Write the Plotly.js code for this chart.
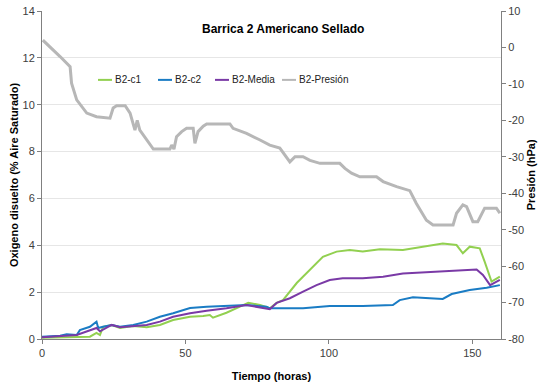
<!DOCTYPE html>
<html>
<head>
<meta charset="utf-8">
<script src="https://cdn.plot.ly/plotly-3.0.1.min.js"></script>
<style>
  html, body { margin: 0; padding: 0; background: #ffffff; }
  #chart { width: 539px; height: 388px; }
</style>
</head>
<body>
<div id="chart"></div>
<script>
// Barrica 2, americano, sellado: oxígeno disuelto (eje izquierdo) y presión (eje derecho)

// B2-c1 (sensor 1)
const c1Hours = [0, 16.7, 19, 20.2, 21.3, 24.3, 27.2, 31.8, 36.5, 41.1, 45.7, 51.6, 56.2, 58.5, 59.6,
  64.3, 69, 71.9, 76, 79.4, 81.8, 84, 88.8, 93.4, 97.9, 102.7, 107.3, 111.8, 117.8, 125.8,
  132.8, 139.7, 144.5, 146.7, 149.1, 152.6, 154.3, 156.7, 159.6];
const c1Oxygen = [0.05, 0.1, 0.26, 0.17, 0.52, 0.6, 0.47, 0.55, 0.5, 0.6, 0.81, 0.95, 0.98, 1.02, 0.91,
  1.12, 1.38, 1.55, 1.45, 1.31, 1.54, 1.66, 2.39, 2.94, 3.51, 3.73, 3.8, 3.73, 3.83, 3.8,
  3.94, 4.08, 4.01, 3.66, 3.94, 3.87, 3.3, 2.45, 2.66];

// B2-c2 (sensor 2)
const c2Hours = [0, 6.3, 8.6, 12.1, 13.2, 16.7, 19, 19.6, 21.3, 24.3, 27.2, 31.8, 36.5, 41.1, 45.7,
  51.6, 57.4, 64.3, 71.3, 78.3, 79.4, 91, 100.3, 111.8, 122.3, 124.7, 129.3, 135.2, 139.7,
  142.8, 149.1, 155, 159.6];
const c2Oxygen = [0.1, 0.14, 0.2, 0.17, 0.38, 0.52, 0.74, 0.47, 0.52, 0.6, 0.52, 0.6, 0.74, 0.95, 1.1,
  1.32, 1.38, 1.41, 1.45, 1.38, 1.31, 1.31, 1.41, 1.41, 1.45, 1.66, 1.78, 1.74, 1.71,
  1.92, 2.09, 2.19, 2.3];

// B2-Media (media de ambos sensores)
const meanHours = [0, 12.1, 19, 20.2, 24.3, 27.2, 36.5, 41.1, 45.7, 51.6, 57.4, 64.3, 71.3, 78.3, 79.4,
  81.8, 86.4, 91, 95.7, 100.3, 104.8, 111.8, 118.9, 125.8, 135.2, 144.5, 151.5, 153.7, 156.2, 159.6];
const meanOxygen = [0.07, 0.17, 0.47, 0.33, 0.6, 0.5, 0.6, 0.74, 0.95, 1.1, 1.21, 1.31, 1.45, 1.31, 1.27,
  1.54, 1.74, 2.02, 2.3, 2.52, 2.59, 2.59, 2.66, 2.8, 2.87, 2.94, 2.97, 2.73, 2.3, 2.52];

// B2-Presión (hPa)
const pressureHours = [0.3, 2.8, 6.3, 9.8, 10.3, 12.1, 15.6, 19, 23.7, 24.8, 26, 29, 30.7, 32.4, 33.2,
  34.1, 36.5, 38.8, 44.6, 45.2, 46, 46.9, 48.7, 50.4, 52.7, 53.3, 54.4, 56.2, 57.4, 65.5,
  66.6, 71.3, 76, 79.4, 82.9, 86.4, 88.2, 91, 93.4, 96.9, 103.8, 105.6, 107.9, 110.8,
  116.6, 118.9, 123.6, 127, 128.2, 130.5, 134, 136.3, 143.3, 144.5, 146.7, 148, 150.2,
  151.9, 154.3, 158.4, 159.6];
const pressure = [2.0, 0.2, -2.5, -5.3, -9.8, -14.4, -18, -19, -19.4, -16.6, -16, -16, -18, -22.7, -20,
  -22.7, -25.4, -27.9, -27.9, -26.8, -27.9, -24.5, -23.1, -22.2, -22.2, -26.3, -23.1, -21.6, -21, -21,
  -22.2, -23.6, -25.4, -26.8, -27.6, -31.4, -30, -30, -31, -31.8, -31.8, -33.2, -34.5, -35.5,
  -35.5, -36.8, -38.2, -39.1, -39.3, -42.8, -47.4, -48.7, -48.7, -45.5, -43.2, -43.7, -47.8,
  -47.8, -44.1, -44.1, -45.5];

// Etiquetas de los ejes
const hourTicks = [0, 50, 100, 150];
const oxygenTicks = [0, 2, 4, 6, 8, 10, 12, 14];
const pressureTicks = [-80, -70, -60, -50, -40, -30, -20, -10, 0, 10];
const pressureTickText = ['-80', '-70', '-60', '-50', '-40', '-30', '-20', '-10', '0', '10'];

const seriesNames = ['B2-c1', 'B2-c2', 'B2-Media', 'B2-Presión'];
const seriesColors = ['#92d050', '#1a7cc4', '#7a3aa6', '#b7b7b7'];

const FAMILY = 'Liberation Sans, Arial, sans-serif';
const axisFont = { family: FAMILY, size: 11, color: '#404040' };
const boldFont = { family: FAMILY, size: 11, color: '#000000', weight: 'bold' };

const traces = [
  { x: c1Hours, y: c1Oxygen, name: seriesNames[0], type: 'scatter', mode: 'lines',
    line: { color: seriesColors[0], width: 2 } },
  { x: c2Hours, y: c2Oxygen, name: seriesNames[1], type: 'scatter', mode: 'lines',
    line: { color: seriesColors[1], width: 2 } },
  { x: meanHours, y: meanOxygen, name: seriesNames[2], type: 'scatter', mode: 'lines',
    line: { color: seriesColors[2], width: 2 } },
  { x: pressureHours, y: pressure, name: seriesNames[3], type: 'scatter', mode: 'lines',
    yaxis: 'y2', line: { color: seriesColors[3], width: 3 } }
];

// Leyenda compacta en una fila: trazo corto + texto
const legendStarts = [98, 158, 215, 282];   // px desde el borde izquierdo de la figura
const plotLeft = 42, plotWidth = 459, legendY = 0.79;
const shapes = [];
const annotations = [
  { text: '<b>Barrica 2 Americano Sellado</b>', xref: 'paper', yref: 'paper',
    x: 0.525, y: 0.945, xanchor: 'center', yanchor: 'middle', showarrow: false,
    font: { family: FAMILY, size: 12, color: '#000000' } },
  { text: '<b>Presión (hPa)</b>', xref: 'paper', yref: 'paper',
    x: 1.066, y: 0.5, xanchor: 'center', yanchor: 'middle', textangle: -90, showarrow: false,
    font: { family: FAMILY, size: 11, color: '#000000' } }
];
seriesNames.forEach((name, i) => {
  const x0 = (legendStarts[i] - plotLeft) / plotWidth;
  const x1 = (legendStarts[i] + 14 - plotLeft) / plotWidth;
  shapes.push({ type: 'line', xref: 'paper', yref: 'paper', x0: x0, x1: x1, y0: legendY, y1: legendY,
    line: { color: seriesColors[i], width: 2 } });
  annotations.push({ text: name, xref: 'paper', yref: 'paper', x: x1 + 1 / plotWidth, y: legendY,
    xanchor: 'left', yanchor: 'middle', showarrow: false,
    font: { family: FAMILY, size: 10, color: '#222222' } });
});

const layout = {
  width: 539, height: 388,
  margin: { l: 42, r: 38, t: 11, b: 49 },
  paper_bgcolor: '#ffffff', plot_bgcolor: '#ffffff',
  showlegend: false,
  xaxis: {
    range: [0, 160], tickvals: hourTicks,
    showgrid: false, zeroline: false, showline: true, linecolor: '#808080', linewidth: 1,
    ticks: 'outside', ticklen: 4, tickcolor: '#808080', tickfont: axisFont,
    title: { text: 'Tiempo (horas)', font: boldFont, standoff: 14 }
  },
  yaxis: {
    range: [0, 14], tickvals: oxygenTicks,
    showgrid: true, gridcolor: '#e6e6e6', gridwidth: 1, zeroline: false,
    showline: true, linecolor: '#808080', linewidth: 1,
    ticks: 'outside', ticklen: 4, tickcolor: '#808080', tickfont: axisFont,
    title: { text: 'Oxigeno disuelto (% Aire Saturado)', font: boldFont, standoff: 1 }
  },
  yaxis2: {
    range: [-80, 10], tickvals: pressureTicks, ticktext: pressureTickText,
    overlaying: 'y', side: 'right', showgrid: false, zeroline: false,
    showline: true, linecolor: '#808080', linewidth: 1,
    ticks: 'outside', ticklen: 4, tickcolor: '#808080', tickfont: axisFont
  },
  shapes: shapes,
  annotations: annotations
};

Plotly.newPlot('chart', traces, layout, { displayModeBar: false, staticPlot: true });
</script>
</body>
</html>
